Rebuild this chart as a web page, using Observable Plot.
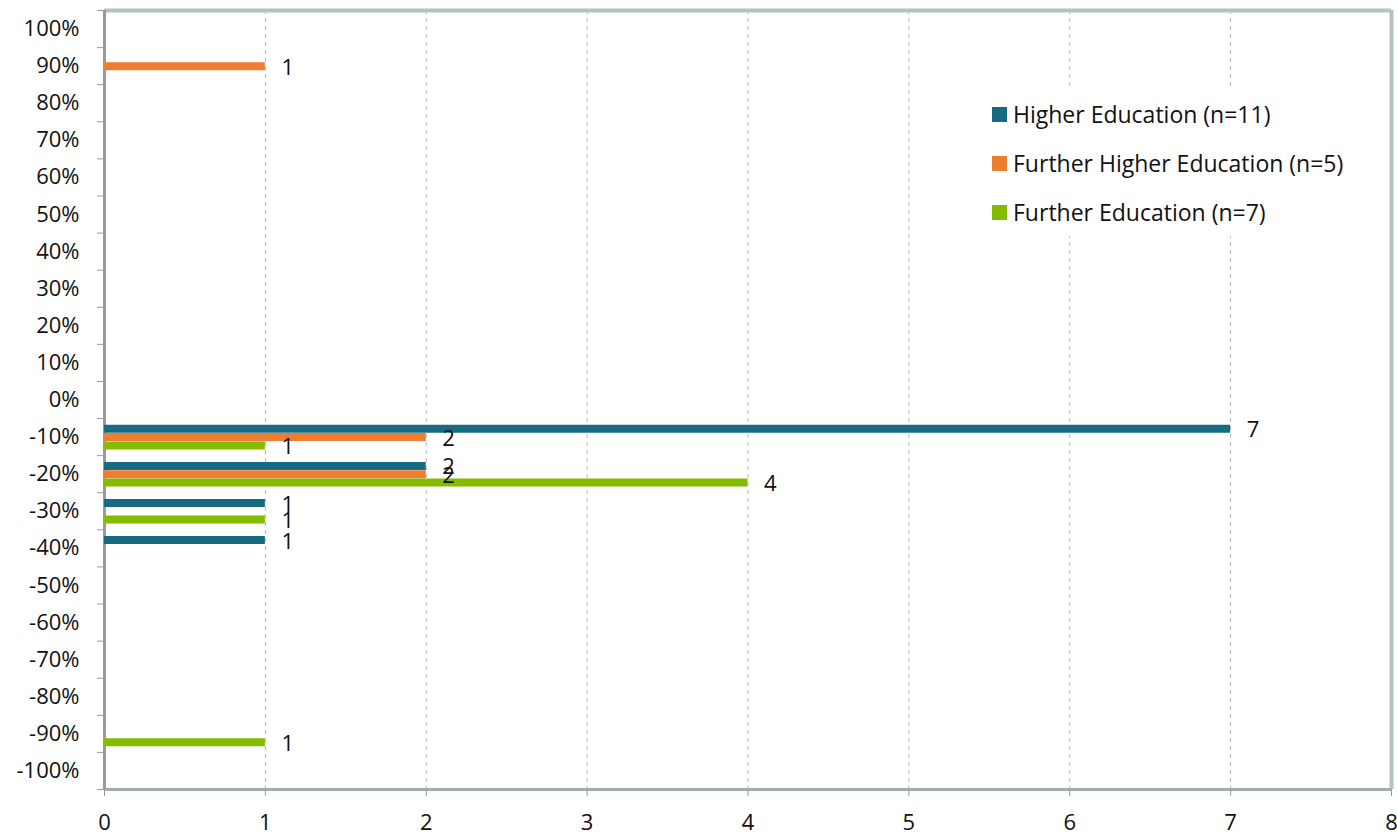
<!DOCTYPE html>
<html><head><meta charset="utf-8">
<script src="https://cdn.jsdelivr.net/npm/d3@7"></script>
<script src="https://cdn.jsdelivr.net/npm/@observablehq/plot@0.6"></script>
<style>
html,body{margin:0;padding:0;background:#fff;}
#wrap{position:relative;width:1397px;height:835px;font-family:"Open Sans",sans-serif;}
#legend{position:absolute;left:984px;top:90px;width:312px;height:146px;background:#fff;}
.row{position:absolute;left:8px;display:flex;align-items:center;font-size:23px;color:#111;white-space:nowrap;}
.sw{width:15px;height:15px;margin-right:6px;}
</style></head><body><div id="wrap"><div id="legend"></div></div>
<script>
// Categories (percent change), top to bottom
const categories = [100, 90, 80, 70, 60, 50, 40, 30, 20, 10, 0, -10, -20, -30, -40, -50, -60, -70, -80, -90, -100];
const seriesNames = ["Higher Education (n=11)", "Further Higher Education (n=5)", "Further Education (n=7)"];
const seriesColors = ["#166a82", "#ed7d31", "#86bc00"];
// Higher Education
const heCategories = [-10, -20, -30, -40];
const heValues = [7, 2, 1, 1];
// Further Higher Education
const fheCategories = [90, -10, -20];
const fheValues = [1, 2, 2];
// Further Education
const feCategories = [-10, -20, -30, -90];
const feValues = [1, 4, 1, 1];
const xTicks = [0, 1, 2, 3, 4, 5, 6, 7, 8];

const seriesCats = [heCategories, fheCategories, feCategories];
const seriesVals = [heValues, fheValues, feValues];
const seriesOffset = [-8.3, 0, 8.3];

const tables = seriesNames.map((name, i) =>
  seriesCats[i].map((c, j) => ({series: name, pct: c, value: seriesVals[i][j]})));

const boundaries = categories.map(c => c + 5).concat([categories[categories.length - 1] - 5]);
const step = categories[0] - categories[1];

const marks = [
  Plot.gridX(xTicks.filter(t => t > xTicks[0] && t < xTicks[xTicks.length - 1]),
    {stroke: "#a9bcb8", strokeOpacity: 1, strokeDasharray: "4,4", strokeWidth: 1}),
  Plot.ruleY([categories[0] + step / 2], {stroke: "#b3c4c0", strokeWidth: 4}),
  Plot.ruleX([xTicks[xTicks.length - 1]], {stroke: "#b3c4c0", strokeWidth: 4}),
  Plot.ruleY([categories[categories.length - 1] - step / 2], {stroke: "#a3adab", strokeWidth: 3}),
  Plot.ruleX([0], {stroke: "#9a9a9a", strokeWidth: 3}),
  Plot.axisY({ticks: boundaries, tickSize: 7, tickFormat: () => "", stroke: "#9a9a9a", label: null}),
  Plot.axisY({ticks: categories, tickSize: 0, tickPadding: 25, tickFormat: d => d + "%", fontSize: 22, fill: "#111", label: null}),
  Plot.axisX({ticks: xTicks, tickSize: 7, tickPadding: 18, fontSize: 22, fill: "#111", stroke: "#9a9a9a", label: null})
];
tables.forEach((t, i) => {
  marks.push(Plot.ruleY(t, {y: "pct", x1: 0, x2: "value", stroke: seriesColors[i], strokeWidth: 8, dy: seriesOffset[i]}));
});
tables.forEach((t, i) => {
  marks.push(Plot.text(t, {x: "value", y: "pct", text: d => String(d.value), dx: 16, dy: seriesOffset[i] + 1.5,
    textAnchor: "start", fontSize: 22, fill: "#111"}));
});

const chart = Plot.plot({
  width: 1397,
  height: 835,
  marginLeft: 104,
  marginRight: 6,
  marginTop: 10,
  marginBottom: 46,
  style: {fontFamily: "'Open Sans', sans-serif", background: "#fff", color: "#111"},
  x: {domain: [xTicks[0], xTicks[xTicks.length - 1]], label: null},
  y: {domain: [categories[categories.length - 1] - step / 2, categories[0] + step / 2], label: null},
  marks
});
const wrap = document.getElementById("wrap");
wrap.insertBefore(chart, wrap.firstChild);

const legend = document.getElementById("legend");
seriesNames.forEach((name, i) => {
  const row = document.createElement("div");
  row.className = "row";
  row.style.top = (8 + i * 49) + "px";
  const sw = document.createElement("span");
  sw.className = "sw";
  sw.style.background = seriesColors[i];
  const label = document.createElement("span");
  label.textContent = name;
  row.appendChild(sw);
  row.appendChild(label);
  legend.appendChild(row);
});
</script></body></html>
